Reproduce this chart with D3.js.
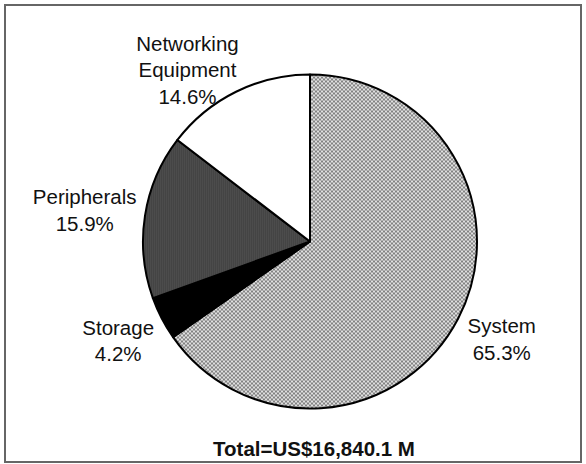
<!DOCTYPE html>
<html>
<head>
<meta charset="utf-8">
<script src="https://cdn.jsdelivr.net/npm/d3@7"></script>
<style>
  body { margin: 0; background: #fff; }
  svg text { font-family: Arial, "Liberation Sans", sans-serif; fill: #111; }
</style>
</head>
<body>
<div id="chart"></div>
<script>
// The Dataset (share of total, in slice order clockwise from 12 o'clock)
var categories = ['System', 'Storage', 'Peripherals', 'Networking Equipment'];
var shares = [65.3, 4.2, 15.9, 14.6];
var labelLines = [['System'], ['Storage'], ['Peripherals'], ['Networking', 'Equipment']];
var totalLabel = 'Total=US$16,840.1 M';

// Chart variables.
var width = 586,
  height = 464,
  cx = 310,
  cy = 241.5,
  radius = 167;

var svg = d3.select('#chart').append('svg')
  .attr('width', width)
  .attr('height', height);

// Fill patterns: light crosshatch, dark stipple.
var defs = svg.append('defs');
var hatch = defs.append('pattern')
  .attr('id', 'hatch')
  .attr('patternUnits', 'userSpaceOnUse')
  .attr('width', 4)
  .attr('height', 4);
hatch.append('rect').attr('width', 4).attr('height', 4).attr('fill', '#e0e0e0');
hatch.append('path')
  .attr('d', 'M0,0 L4,4 M4,0 L0,4')
  .attr('stroke', '#828282')
  .attr('stroke-width', 1);

var stipple = defs.append('pattern')
  .attr('id', 'stipple')
  .attr('patternUnits', 'userSpaceOnUse')
  .attr('width', 2)
  .attr('height', 2);
stipple.append('rect').attr('width', 2).attr('height', 2).attr('fill', '#2e2e2e');
stipple.append('rect').attr('width', 1).attr('height', 1).attr('fill', '#6a6a6a');
stipple.append('rect').attr('x', 1).attr('y', 1).attr('width', 1).attr('height', 1).attr('fill', '#5a5a5a');

var fills = ['url(#hatch)', '#000', 'url(#stipple)', '#fff'];

// Frame around the chart.
svg.append('rect')
  .attr('x', 5)
  .attr('y', 5)
  .attr('width', 576)
  .attr('height', 457)
  .attr('fill', 'none')
  .attr('stroke', '#666')
  .attr('stroke-width', 2);

var pie = d3.pie().sort(null).value(function (d) { return d; });
var arcs = pie(shares);

var arc = d3.arc().innerRadius(0).outerRadius(radius);

var g = svg.append('g').attr('transform', 'translate(' + cx + ',' + cy + ')');

g.selectAll('path.slice')
  .data(arcs)
  .enter()
  .append('path')
  .attr('class', 'slice')
  .attr('d', arc)
  .attr('fill', function (d, i) { return fills[i]; })
  .attr('stroke', '#000')
  .attr('stroke-width', 2)
  .attr('stroke-linejoin', 'round');

// Label placement: radius from centre and a small nudge per label.
var labelRadius = [214, 216, 228, 200];
var labelNudge = [[2, -1], [0, 0], [0, 4], [-34, 8]];
var lineH = 26.5;

arcs.forEach(function (d, i) {
  var la = d3.arc().innerRadius(labelRadius[i]).outerRadius(labelRadius[i]);
  var c = la.centroid(d);
  var lines = labelLines[i].concat([d3.format('.1f')(shares[i]) + '%']);
  var x = c[0] + labelNudge[i][0],
    y = c[1] + labelNudge[i][1];
  var t = g.append('text')
    .attr('text-anchor', 'middle')
    .attr('font-size', 20.5);
  lines.forEach(function (s, k) {
    t.append('tspan')
      .attr('x', x)
      .attr('y', y + (k - (lines.length - 1) / 2) * lineH + 7)
      .text(s);
  });
});

svg.append('text')
  .attr('x', cx + 4)
  .attr('y', 456)
  .attr('text-anchor', 'middle')
  .attr('font-size', 20.5)
  .attr('font-weight', 'bold')
  .text(totalLabel);
</script>
</body>
</html>
